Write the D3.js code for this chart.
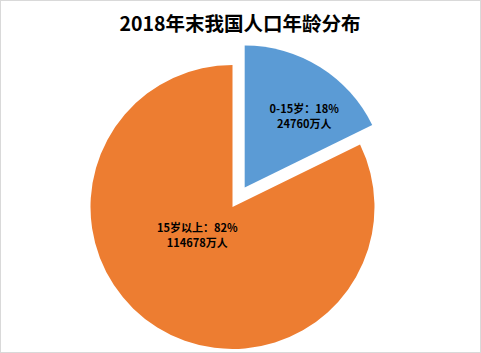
<!DOCTYPE html>
<html>
<head>
<meta charset="utf-8">
<script src="https://cdn.jsdelivr.net/npm/d3@7/dist/d3.min.js"></script>
<style>
  html, body { margin: 0; padding: 0; background: #fff; }
  svg { display: block; }
</style>
</head>
<body>
<svg id="chart" width="481" height="353"></svg>
<script>
const title = "2018年末我国人口年龄分布";
const categories = ["0-15岁", "15岁以上"];
const values = [24760, 114678];
const units = "万人";
const colors = ["#5B9BD5", "#ED7D31"];

const W = 481, H = 353;
const svg = d3.select("#chart");
const font = "'Noto Sans CJK SC', 'Noto Sans', sans-serif";

svg.append("rect")
  .attr("x", 0.5).attr("y", 0.5)
  .attr("width", W - 1).attr("height", H - 1)
  .attr("fill", "#fff").attr("stroke", "#D9D9D9");

svg.append("text")
  .attr("x", 240).attr("y", 31)
  .attr("text-anchor", "middle")
  .attr("font-family", font)
  .attr("font-weight", "bold")
  .attr("font-size", 19.5)
  .attr("fill", "#000")
  .text(title);

const cx = 232.5, cy = 207, r = 142, explode = 23;
const total = d3.sum(values);

const pie = d3.pie().sort(null).value(d => d)(values);
const arc = d3.arc().innerRadius(0).outerRadius(r);

const g = svg.append("g").attr("transform", `translate(${cx},${cy})`);

// offset per slice: only the first (smaller) slice is exploded
const offsets = pie.map((p, i) => {
  const a = (p.startAngle + p.endAngle) / 2;
  const d = i === 0 ? explode : 0;
  return [d * Math.sin(a), -d * Math.cos(a)];
});

g.selectAll("path.slice")
  .data(pie)
  .join("path")
  .attr("class", "slice")
  .attr("d", arc)
  .attr("fill", (d, i) => colors[i])
  .attr("transform", (d, i) => `translate(${offsets[i][0]},${offsets[i][1]})`);

// label placement (angle offset in radians, radius fraction) per slice
const labelPolar = [
  { da: 0.13, rf: 0.66 },
  { da: 0.35, rf: 0.315 }
];

const labels = g.selectAll("g.lbl")
  .data(pie)
  .join("g")
  .attr("class", "lbl")
  .attr("transform", (d, i) => {
    const a = (d.startAngle + d.endAngle) / 2 + labelPolar[i].da;
    const rr = r * labelPolar[i].rf;
    return `translate(${offsets[i][0] + rr * Math.sin(a)},${offsets[i][1] - rr * Math.cos(a)})`;
  });

labels.append("text")
  .attr("text-anchor", "middle")
  .attr("font-family", font)
  .attr("font-weight", "bold")
  .attr("font-size", 11)
  .attr("fill", "#000")
  .attr("y", -2.5)
  .text((d, i) => `${categories[i]}：${Math.round(d.value / total * 100)}%`);

labels.append("text")
  .attr("text-anchor", "middle")
  .attr("font-family", font)
  .attr("font-weight", "bold")
  .attr("font-size", 11)
  .attr("fill", "#000")
  .attr("y", 12.5)
  .text((d, i) => `${d.value}${units}`);
</script>
</body>
</html>
